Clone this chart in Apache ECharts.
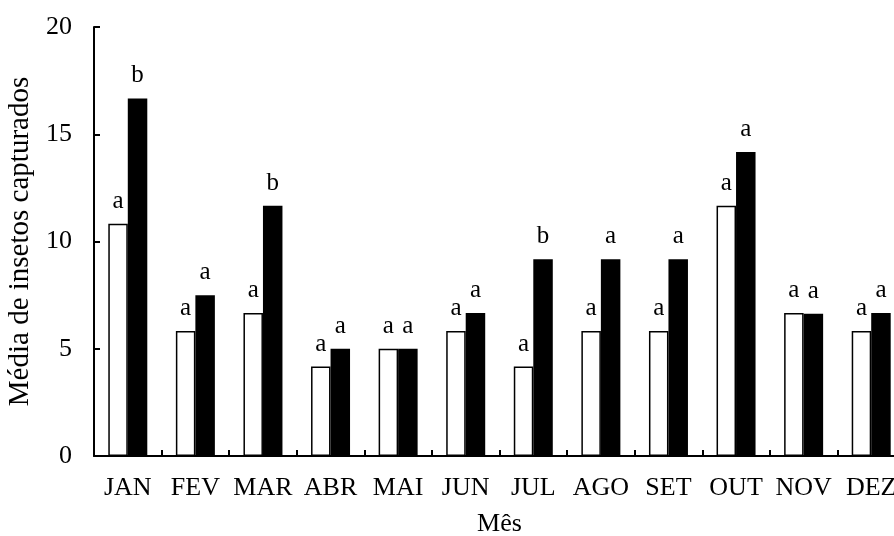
<!DOCTYPE html>
<html>
<head>
<meta charset="utf-8">
<script src="https://cdn.jsdelivr.net/npm/echarts@6/dist/echarts.min.js"></script>
<style>
  html, body { margin: 0; padding: 0; background: #fff; }
  #chart { width: 894px; height: 536px; }
</style>
</head>
<body>
<div id="chart"></div>
<script>
// meses e médias
const months = ["JAN", "FEV", "MAR", "ABR", "MAI", "JUN", "JUL", "AGO", "SET", "OUT", "NOV", "DEZ"];
const whiteVals = [10.83, 5.83, 6.67, 4.17, 5.0, 5.83, 4.17, 5.83, 5.83, 11.67, 6.67, 5.83];
const blackVals = [16.67, 7.5, 11.67, 5.0, 5.0, 6.67, 9.17, 9.17, 9.17, 14.17, 6.63, 6.67];
const whiteLetters = ["a", "a", "a", "a", "a", "a", "a", "a", "a", "a", "a", "a"];
const blackLetters = ["b", "a", "b", "a", "a", "a", "b", "a", "a", "a", "a", "a"];
const yTicks = [0, 5, 10, 15, 20];

const FONT = "'Liberation Serif', 'DejaVu Serif', serif";
const INK = "#000";

const chart = echarts.init(document.getElementById("chart"), null, { renderer: "canvas" });

function letterLabel(letters) {
  return {
    show: true,
    position: "top",
    distance: 10,
    fontFamily: FONT,
    fontSize: 25,
    color: INK,
    formatter: (p) => letters[p.dataIndex],
  };
}

chart.setOption({
  animation: false,
  backgroundColor: "#fff",
  grid: { left: 94, top: 27, bottom: 80, width: 811, outerBoundsMode: "none", containLabel: false },
  xAxis: {
    type: "category",
    data: months,
    name: "Mês",
    nameLocation: "middle",
    nameGap: 55,
    nameTextStyle: { fontFamily: FONT, fontSize: 26, color: INK },
    axisLine: { lineStyle: { color: INK, width: 2 } },
    axisTick: { show: true, inside: true, length: 6, lineStyle: { color: INK, width: 2 } },
    axisLabel: { fontFamily: FONT, fontSize: 26, color: INK, margin: 19, interval: 0, hideOverlap: false },
  },
  yAxis: {
    type: "value",
    min: yTicks[0],
    max: yTicks[yTicks.length - 1],
    interval: 5,
    name: "Média de insetos capturados",
    nameLocation: "middle",
    nameGap: 55,
    nameTextStyle: { fontFamily: FONT, fontSize: 29, color: INK },
    axisLine: { show: true, lineStyle: { color: INK, width: 2 } },
    axisTick: { show: true, inside: true, length: 6, lineStyle: { color: INK, width: 2 } },
    axisLabel: { fontFamily: FONT, fontSize: 26, color: INK, margin: 22 },
    splitLine: { show: false },
  },
  series: [
    {
      type: "bar",
      data: whiteVals,
      barWidth: 19.5,
      barGap: "0%",
      itemStyle: { color: "#fff", borderColor: INK, borderWidth: 1.5 },
      label: letterLabel(whiteLetters),
    },
    {
      type: "bar",
      data: blackVals,
      barWidth: 19.5,
      barGap: "0%",
      itemStyle: { color: INK },
      label: letterLabel(blackLetters),
    },
  ],
});
</script>
</body>
</html>
